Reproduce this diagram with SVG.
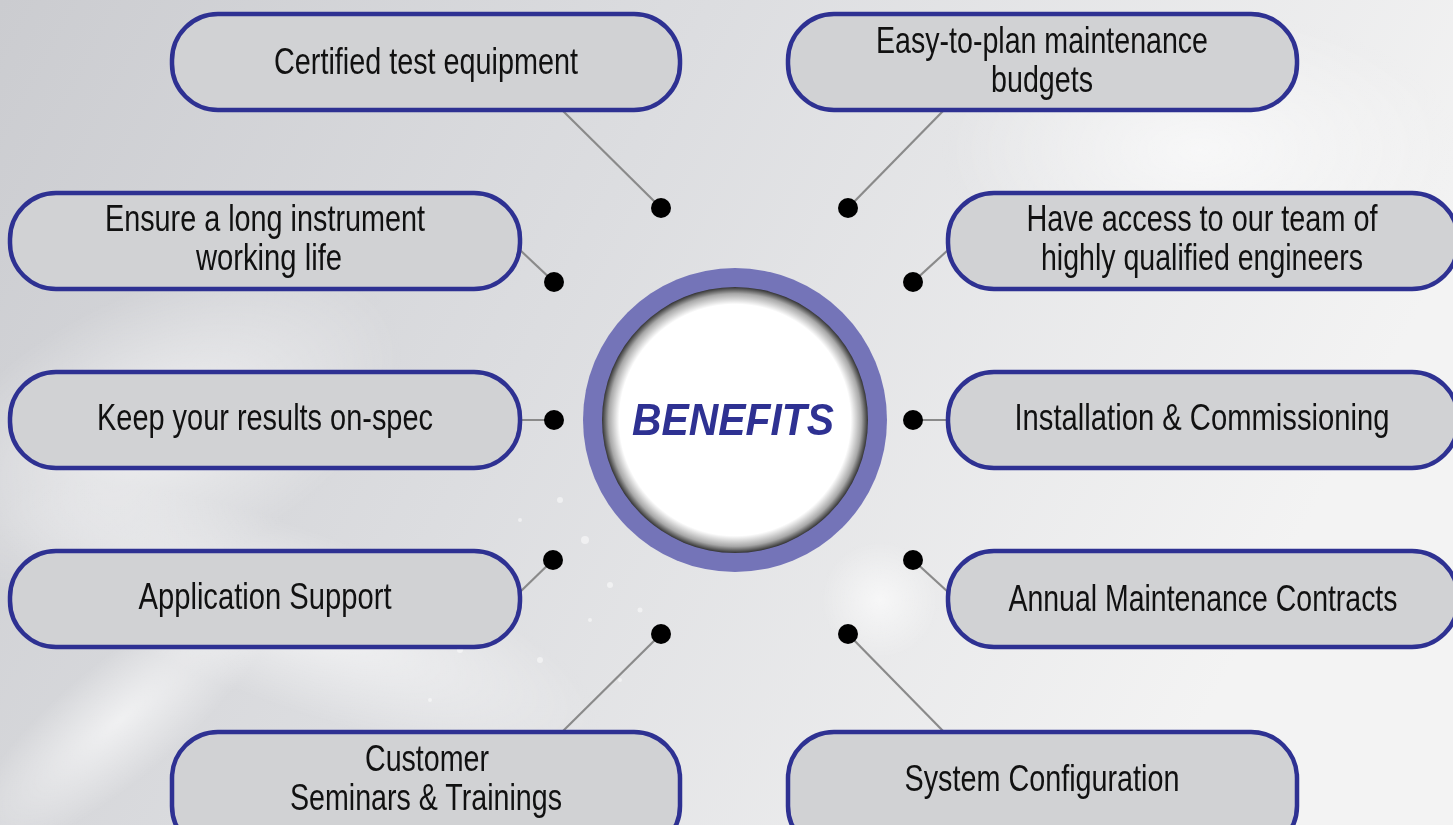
<svg xmlns="http://www.w3.org/2000/svg" width="1453" height="825" viewBox="0 0 1453 825">
<defs>
<linearGradient id="bg" x1="0" y1="0" x2="1" y2="0.3">
<stop offset="0" stop-color="#cbccd0"/>
<stop offset="0.45" stop-color="#dcdde0"/>
<stop offset="1" stop-color="#f3f3f3"/>
</linearGradient>
<radialGradient id="glow" cx="0.5" cy="0.5" r="0.5">
<stop offset="0" stop-color="#ffffff" stop-opacity="0.7"/>
<stop offset="1" stop-color="#ffffff" stop-opacity="0"/>
</radialGradient>
<radialGradient id="inner" cx="0.5" cy="0.5" r="0.5">
<stop offset="0" stop-color="#ffffff"/>
<stop offset="0.87" stop-color="#ffffff"/>
<stop offset="0.95" stop-color="#a8a8a8"/>
<stop offset="1" stop-color="#333333"/>
</radialGradient>
<style>
.box{fill:#d1d2d4;stroke:#2e3192;stroke-width:4.5}
.lbl{font-family:"Liberation Sans Narrow","Liberation Sans",Arial,sans-serif;font-size:37px;fill:#111111;text-anchor:middle}
.con line{stroke:#8a8a8a;stroke-width:2.2}
.con circle{fill:#000000}
</style>
</defs>
<rect x="0" y="0" width="1453" height="825" fill="url(#bg)"/>
<g opacity="0.9">
<ellipse cx="160" cy="430" rx="260" ry="140" fill="url(#glow)" transform="rotate(-25 160 430)"/>
<ellipse cx="300" cy="620" rx="320" ry="90" fill="url(#glow)" transform="rotate(20 300 620)"/>
<ellipse cx="120" cy="720" rx="200" ry="60" fill="url(#glow)" transform="rotate(-40 120 720)"/>
<ellipse cx="880" cy="600" rx="60" ry="60" fill="url(#glow)"/>
<ellipse cx="1200" cy="150" rx="260" ry="140" fill="url(#glow)"/>
</g>
<g fill="#ffffff" opacity="0.5">
<circle cx="560" cy="500" r="3"/><circle cx="585" cy="540" r="4"/><circle cx="520" cy="520" r="2"/>
<circle cx="610" cy="585" r="3"/><circle cx="470" cy="560" r="2"/><circle cx="640" cy="610" r="2.5"/>
<circle cx="590" cy="620" r="2"/><circle cx="540" cy="660" r="3"/><circle cx="500" cy="610" r="2"/>
<circle cx="430" cy="700" r="2"/><circle cx="620" cy="680" r="2"/><circle cx="460" cy="650" r="3"/>
</g>
<g class="con" id="connectors">
<line x1="562" y1="110" x2="661" y2="208"/><circle cx="661" cy="208" r="10"/>
<line x1="944" y1="110" x2="848" y2="208"/><circle cx="848" cy="208" r="10"/>
<line x1="520" y1="250" x2="554" y2="282"/><circle cx="554" cy="282" r="10"/>
<line x1="948" y1="250" x2="913" y2="282"/><circle cx="913" cy="282" r="10"/>
<line x1="520" y1="420" x2="554" y2="420"/><circle cx="554" cy="420" r="10"/>
<line x1="913" y1="420" x2="948" y2="420"/><circle cx="913" cy="420" r="10"/>
<line x1="520" y1="592" x2="553" y2="560"/><circle cx="553" cy="560" r="10"/>
<line x1="913" y1="560" x2="948" y2="592"/><circle cx="913" cy="560" r="10"/>
<line x1="562" y1="732" x2="661" y2="634"/><circle cx="661" cy="634" r="10"/>
<line x1="944" y1="732" x2="848" y2="634"/><circle cx="848" cy="634" r="10"/>
</g>
<g id="center">
<circle cx="735" cy="420" r="152" fill="#7474b8"/>
<circle cx="735" cy="420" r="133" fill="url(#inner)"/>
<text x="733" y="435" font-family="'Liberation Sans',Arial,sans-serif" font-size="44" font-weight="bold" font-style="italic" fill="#2e3192" text-anchor="middle" textLength="202" lengthAdjust="spacingAndGlyphs">BENEFITS</text>
</g>
<g id="n1"><rect class="box" x="172" y="14" width="508" height="96" rx="46"/>
<text class="lbl" x="426" y="74" textLength="304" lengthAdjust="spacingAndGlyphs">Certified test equipment</text></g>
<g id="n2"><rect class="box" x="788" y="14" width="509" height="96" rx="46"/>
<text class="lbl" x="1042" y="53" textLength="332" lengthAdjust="spacingAndGlyphs">Easy-to-plan maintenance</text>
<text class="lbl" x="1042" y="92" textLength="102" lengthAdjust="spacingAndGlyphs">budgets</text></g>
<g id="n3"><rect class="box" x="10" y="193" width="510" height="96" rx="46"/>
<text class="lbl" x="265" y="231" textLength="320" lengthAdjust="spacingAndGlyphs">Ensure a long instrument</text>
<text class="lbl" x="269" y="270" textLength="146" lengthAdjust="spacingAndGlyphs">working life</text></g>
<g id="n4"><rect class="box" x="948" y="193" width="510" height="96" rx="46"/>
<text class="lbl" x="1202" y="231" textLength="351" lengthAdjust="spacingAndGlyphs">Have access to our team of</text>
<text class="lbl" x="1202" y="270" textLength="322" lengthAdjust="spacingAndGlyphs">highly qualified engineers</text></g>
<g id="n5"><rect class="box" x="10" y="372" width="510" height="96" rx="46"/>
<text class="lbl" x="265" y="430" textLength="336" lengthAdjust="spacingAndGlyphs">Keep your results on-spec</text></g>
<g id="n6"><rect class="box" x="948" y="372" width="510" height="96" rx="46"/>
<text class="lbl" x="1202" y="430" textLength="375" lengthAdjust="spacingAndGlyphs">Installation &amp; Commissioning</text></g>
<g id="n7"><rect class="box" x="10" y="551" width="510" height="96" rx="46"/>
<text class="lbl" x="265" y="609" textLength="253" lengthAdjust="spacingAndGlyphs">Application Support</text></g>
<g id="n8"><rect class="box" x="948" y="551" width="510" height="96" rx="46"/>
<text class="lbl" x="1203" y="611" textLength="389" lengthAdjust="spacingAndGlyphs">Annual Maintenance Contracts</text></g>
<g id="n9"><rect class="box" x="172" y="732" width="508" height="120" rx="46"/>
<text class="lbl" x="427" y="771" textLength="124" lengthAdjust="spacingAndGlyphs">Customer</text>
<text class="lbl" x="426" y="810" textLength="272" lengthAdjust="spacingAndGlyphs">Seminars &amp; Trainings</text></g>
<g id="n10"><rect class="box" x="788" y="732" width="509" height="120" rx="46"/>
<text class="lbl" x="1042" y="791" textLength="275" lengthAdjust="spacingAndGlyphs">System Configuration</text></g>
</svg>
